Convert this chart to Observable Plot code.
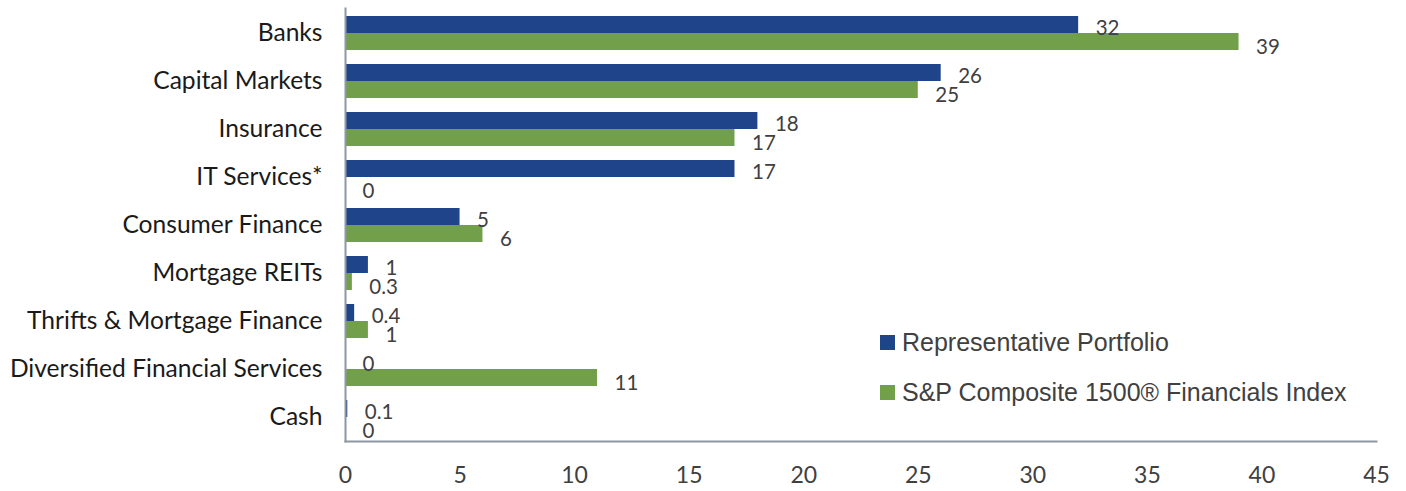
<!DOCTYPE html>
<html><head><meta charset="utf-8">
<script src="https://cdn.jsdelivr.net/npm/d3@7"></script>
<script src="https://cdn.jsdelivr.net/npm/@observablehq/plot@0.6"></script>
<style>
body{margin:0;background:#fff}
#wrap{position:relative;width:1406px;height:491px;overflow:hidden}
.leg{position:absolute;left:880px;font-family:"Liberation Sans",Arial,sans-serif;font-size:25px;color:#404040;display:flex;align-items:center;white-space:nowrap;line-height:1}
.leg span.sw{display:inline-block;width:15px;height:15px;margin-right:7px}
</style>
</head><body><div id="wrap"></div>
<script>
const categories = ["Banks","Capital Markets","Insurance","IT Services*","Consumer Finance","Mortgage REITs","Thrifts & Mortgage Finance","Diversified Financial Services","Cash"];
const portfolio = [32,26,18,17,5,1,0.4,0,0.1];
const benchmark = [39,25,17,0,6,0.3,1,11,0];
const seriesNames = ["Representative Portfolio","S&P Composite 1500® Financials Index"];
const xTicks = [0,5,10,15,20,25,30,35,40,45];
const colors = ["#1f4489","#72a04a"];

const rowsP = categories.map((c,i)=>({category:c, value:portfolio[i]}));
const rowsB = categories.map((c,i)=>({category:c, value:benchmark[i]}));
const axisColor = "#8c98a2";

const chart = Plot.plot({
  width:1406, height:491,
  marginLeft:345, marginRight:30, marginTop:8, marginBottom:50,
  style:{fontFamily:"Lato, sans-serif", background:"white", overflow:"visible"},
  x:{domain:[0,45], label:null},
  y:{domain:categories, padding:0, label:null},
  marks:[
    Plot.barX(rowsP,{y:"category", x:"value", fill:colors[0], insetTop:15.5, insetBottom:15.5, dy:-8.5}),
    Plot.barX(rowsB,{y:"category", x:"value", fill:colors[1], insetTop:15.5, insetBottom:15.5, dy:8.5}),
    Plot.text(rowsP,{y:"category", x:"value", text:d=>String(d.value), textAnchor:"start", dx:17, dy:-5, fontSize:20.5, fill:"#404040"}),
    Plot.text(rowsB,{y:"category", x:"value", text:d=>String(d.value), textAnchor:"start", dx:17, dy:14, fontSize:20.5, fill:"#404040"}),
    Plot.frame({anchor:"left", stroke:axisColor, strokeWidth:2}),
    Plot.frame({anchor:"bottom", stroke:axisColor, strokeWidth:2}),
    Plot.axisX({ticks:xTicks, tickSize:0, tickPadding:25, fontSize:23, fill:"#404040", label:null}),
    Plot.axisY({tickSize:0, tickPadding:23, fontSize:24.6, fill:"#1a1a1a", label:null})
  ]
});
const wrap = document.getElementById("wrap");
wrap.appendChild(chart);
const legTops = [330, 380];
seriesNames.forEach((n,i)=>{
  const d = document.createElement("div");
  d.className = "leg";
  d.style.top = legTops[i]+"px";
  d.innerHTML = `<span class="sw" style="background:${colors[i]}"></span><span></span>`;
  d.lastChild.textContent = n;
  wrap.appendChild(d);
});
</script>
</body></html>
